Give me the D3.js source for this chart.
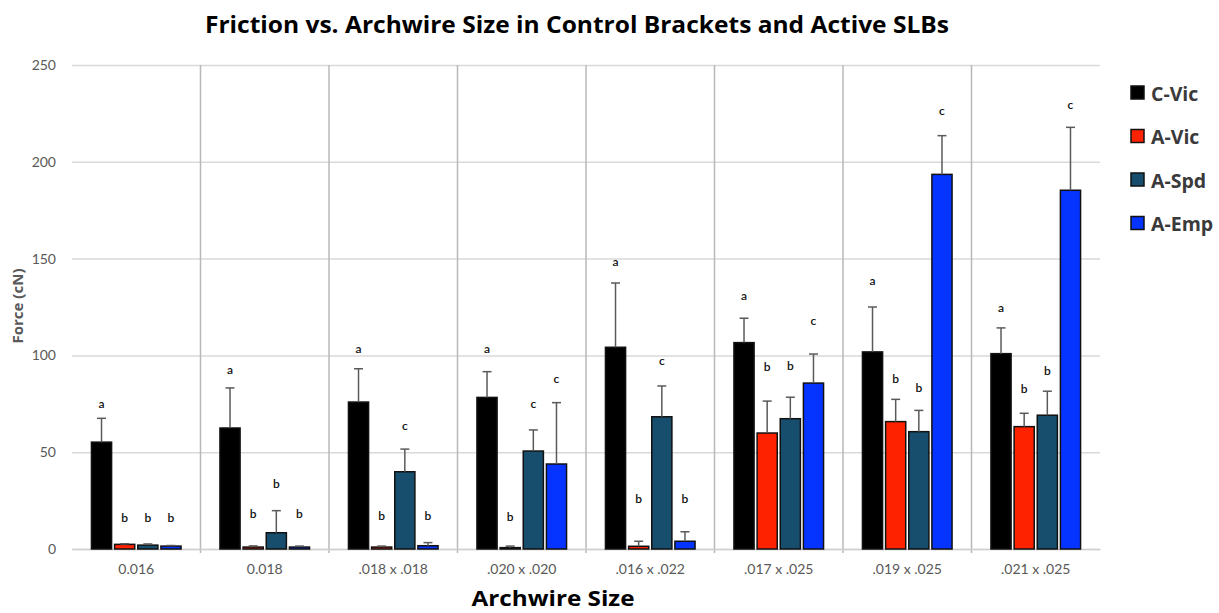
<!DOCTYPE html>
<html>
<head>
<meta charset="utf-8">
<script src="https://cdn.jsdelivr.net/npm/d3@7"></script>
<style>
  html, body { margin: 0; padding: 0; background: #fff; }
  svg { display: block; }
</style>
</head>
<body>
<svg id="chart" width="1219" height="613"></svg>
<script>
// ---- data ----
const categories = ["0.016", "0.018", ".018 x .018", ".020 x .020", ".016 x .022", ".017 x .025", ".019 x .025", ".021 x .025"];
const seriesNames = ["C-Vic", "A-Vic", "A-Spd", "A-Emp"];
const seriesColors = ["#000000", "#ff2200", "#174e6e", "#0533ff"];

const cVic   = [55.2, 62.5, 75.9, 78.3, 104.2, 106.6, 101.8, 100.9];
const cVicSD = [12.3, 20.7, 17.2, 13.3, 33.2, 12.6, 23.2, 13.3];
const aVic   = [2.4, 1.0, 1.0, 0.7, 1.4, 59.9, 65.8, 63.2];
const aVicSD = [0.3, 0.6, 0.5, 0.8, 2.6, 16.5, 11.5, 6.9];
const aSpd   = [2.0, 8.4, 39.9, 50.6, 68.3, 67.3, 60.6, 69.1];
const aSpdSD = [0.6, 11.4, 11.7, 10.9, 15.9, 11.1, 11.0, 12.4];
const aEmp   = [1.5, 1.0, 1.7, 43.9, 4.0, 85.7, 193.5, 185.3];
const aEmpSD = [0.3, 0.5, 1.6, 31.7, 4.9, 15.0, 20.0, 32.5];

const cVicLetters = ["a", "a", "a", "a", "a", "a", "a", "a"];
const aVicLetters = ["b", "b", "b", "b", "b", "b", "b", "b"];
const aSpdLetters = ["b", "b", "c", "c", "c", "b", "b", "b"];
const aEmpLetters = ["b", "b", "b", "c", "b", "c", "c", "c"];
// level (cN) at which each significance letter sits
const cVicLetterAt = [75.0, 92.5, 103.5, 103.2, 148.1, 130.7, 138.6, 124.6];
const aVicLetterAt = [16.0, 18.1, 17.2, 16.7, 25.7, 94.0, 87.6, 82.6];
const aSpdLetterAt = [16.0, 33.6, 63.7, 74.7, 97.1, 94.7, 83.0, 91.9];
const aEmpLetterAt = [16.0, 18.1, 17.2, 88.0, 26.0, 117.9, 226.2, 229.3];

const yTicks = [0, 50, 100, 150, 200, 250];

const titleText = "Friction vs. Archwire Size in Control Brackets and Active SLBs";
const xTitle = "Archwire Size";
const yTitle = "Force (cN)";

// ---- assemble ----
const values = [cVic, aVic, aSpd, aEmp];
const sds = [cVicSD, aVicSD, aSpdSD, aEmpSD];
const letters = [cVicLetters, aVicLetters, aSpdLetters, aEmpLetters];
const letterAt = [cVicLetterAt, aVicLetterAt, aSpdLetterAt, aEmpLetterAt];

const rows = [];
categories.forEach((c, ci) => {
  seriesNames.forEach((s, si) => {
    rows.push({
      cat: c, ser: s, color: seriesColors[si],
      v: values[si][ci], sd: sds[si][ci],
      letter: letters[si][ci], at: letterAt[si][ci]
    });
  });
});

// ---- layout ----
const svg = d3.select("#chart");
const plot = { left: 72, right: 1100, top: 65, bottom: 549 };
const font = "Lato, 'Open Sans', sans-serif";
const boldFont = "'Open Sans', Lato, sans-serif";

const x0 = d3.scaleBand().domain(categories).range([plot.left, plot.right]).padding(0);
const x1 = d3.scaleBand().domain(seriesNames)
  .range([0, x0.bandwidth()]).paddingInner(0.13).paddingOuter(0.84);
const y = d3.scaleLinear().domain([0, 250]).range([plot.bottom, plot.top]);

// horizontal grid
const yAxis = d3.axisLeft(y).tickValues(yTicks).tickSize(-(plot.right - plot.left)).tickPadding(16);
const gy = svg.append("g").attr("transform", `translate(${plot.left},0)`).call(yAxis);
gy.select(".domain").remove();
gy.selectAll(".tick line").attr("stroke", "#d9d9d9").attr("stroke-width", 1.5);
gy.selectAll(".tick text")
  .attr("font-family", font).attr("font-size", 14).attr("fill", "#595959");

// vertical category separators
svg.append("g").selectAll("line")
  .data(categories.slice(1))
  .join("line")
  .attr("x1", d => x0(d)).attr("x2", d => x0(d))
  .attr("y1", plot.top).attr("y2", plot.bottom + 4)
  .attr("stroke", "#b8b8b8").attr("stroke-width", 1.5);

// x axis labels
const xAxis = d3.axisBottom(x0).tickSize(0).tickPadding(15);
const gx = svg.append("g").attr("transform", `translate(0,${plot.bottom})`).call(xAxis);
gx.select(".domain").attr("stroke", "#d0d0d0").attr("stroke-width", 1.5);
gx.selectAll(".tick text")
  .attr("font-family", font).attr("font-size", 14).attr("fill", "#595959");

// bars
const groups = svg.append("g").selectAll("g")
  .data(rows)
  .join("g")
  .attr("transform", d => `translate(${x0(d.cat) + x1(d.ser)},0)`);

groups.append("rect")
  .attr("x", 0)
  .attr("y", d => y(d.v))
  .attr("width", x1.bandwidth())
  .attr("height", d => y(0) - y(d.v))
  .attr("fill", d => d.color)
  .attr("stroke", "#111")
  .attr("stroke-width", 1.5);

// error bars (upper only)
const bw = x1.bandwidth();
groups.append("line")
  .attr("x1", bw / 2).attr("x2", bw / 2)
  .attr("y1", d => y(d.v)).attr("y2", d => y(d.v + d.sd))
  .attr("stroke", "#5a5a5a").attr("stroke-width", 1.5);
groups.append("line")
  .attr("x1", bw / 2 - 4.5).attr("x2", bw / 2 + 4.5)
  .attr("y1", d => y(d.v + d.sd)).attr("y2", d => y(d.v + d.sd))
  .attr("stroke", "#5a5a5a").attr("stroke-width", 1.5);

// letters
groups.append("text")
  .attr("x", bw / 2)
  .attr("y", d => y(d.at) + 4)
  .attr("text-anchor", "middle")
  .attr("font-family", font).attr("font-size", 12).attr("font-weight", 600)
  .attr("fill", "#111")
  .text(d => d.letter);

// title
svg.append("text")
  .attr("x", 577).attr("y", 33)
  .attr("text-anchor", "middle")
  .attr("font-family", boldFont).attr("font-size", 23).attr("font-weight", "bold")
  .attr("textLength", 744).attr("lengthAdjust", "spacingAndGlyphs")
  .attr("fill", "#000")
  .text(titleText);

// axis titles
svg.append("text")
  .attr("x", 553).attr("y", 606)
  .attr("text-anchor", "middle")
  .attr("font-family", boldFont).attr("font-size", 22).attr("font-weight", "bold")
  .attr("textLength", 163).attr("lengthAdjust", "spacingAndGlyphs")
  .attr("fill", "#000")
  .text(xTitle);

svg.append("text")
  .attr("transform", "translate(23,306) rotate(-90)")
  .attr("text-anchor", "middle")
  .attr("font-family", boldFont).attr("font-size", 15).attr("font-weight", "bold")
  .attr("textLength", 75).attr("lengthAdjust", "spacingAndGlyphs")
  .attr("fill", "#595959")
  .text(yTitle);

// legend
const legend = svg.append("g").selectAll("g")
  .data(seriesNames)
  .join("g")
  .attr("transform", (d, i) => `translate(1131,${93 + i * 43.5})`);
legend.append("rect")
  .attr("x", 0).attr("y", -7).attr("width", 13).attr("height", 13)
  .attr("fill", (d, i) => seriesColors[i])
  .attr("stroke", "#111").attr("stroke-width", 1.5);
legend.append("text")
  .attr("x", 20).attr("y", 7.5)
  .attr("font-family", boldFont).attr("font-size", 19.5).attr("font-weight", "bold")
  .attr("fill", "#3a3a3a")
  .text(d => d);
</script>
</body>
</html>
